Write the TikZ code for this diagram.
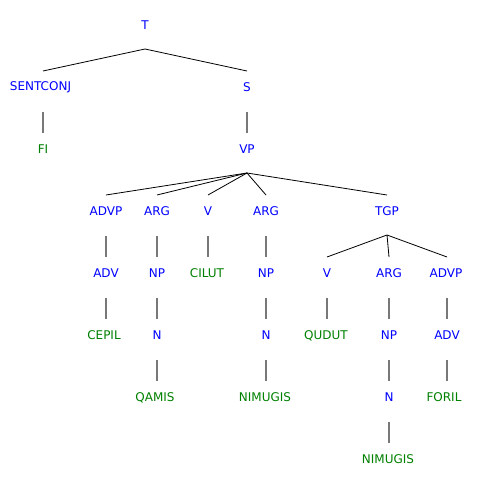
\documentclass[tikz,border=0pt]{standalone}
\usepackage{fontspec}
\setmainfont{DejaVu Sans}
\definecolor{ntblue}{RGB}{0,0,255}
\definecolor{tgreen}{RGB}{0,128,0}
\definecolor{vgray}{RGB}{120,120,120}
\begin{document}
\begin{tikzpicture}[x=1pt,y=-1pt,
  every node/.style={inner sep=0pt,font=\fontsize{12}{14}\selectfont},
  nt/.style={text=ntblue},
  tm/.style={text=tgreen},
  diag/.style={draw=black,line width=0.8pt},
  vert/.style={draw=vgray,line width=1.5pt}]
\useasboundingbox (0,0) rectangle (487,494);
% nodes
\node[nt] (T) at (145,25.5) {T};
\node[nt] (SC) at (40.5,87.5) {SENTCONJ};
\node[nt] (S) at (247,87.5) {S};
\node[tm] (FI) at (43,149.5) {FI};
\node[nt] (VP) at (247,149.5) {VP};
\node[nt] (ADVP1) at (106,211.5) {ADVP};
\node[nt] (ARG1) at (157,211.5) {ARG};
\node[nt] (V1) at (208,211.5) {V};
\node[nt] (ARG2) at (266,211.5) {ARG};
\node[nt] (TGP) at (387,211.5) {TGP};
\node[nt] (ADV1) at (106,273.5) {ADV};
\node[nt] (NP1) at (157,273.5) {NP};
\node[tm] (CILUT) at (207,273.5) {CILUT};
\node[nt] (NP2) at (266,273.5) {NP};
\node[nt] (V2) at (327,273.5) {V};
\node[nt] (ARG3) at (389,273.5) {ARG};
\node[nt] (ADVP2) at (446,273.5) {ADVP};
\node[tm] (CEPIL) at (104,335.5) {CEPIL};
\node[nt] (N1) at (157,335.5) {N};
\node[nt] (N2) at (266,335.5) {N};
\node[tm] (QUDUT) at (326,335.5) {QUDUT};
\node[nt] (NP3) at (389,335.5) {NP};
\node[nt] (ADV2) at (447,335.5) {ADV};
\node[tm] (QAMIS) at (155,397.5) {QAMIS};
\node[tm] (NIM1) at (265,397.5) {NIMUGIS};
\node[nt] (N3) at (389,397.5) {N};
\node[tm] (FORIL) at (444,397.5) {FORIL};
\node[tm] (NIM2) at (388,459.5) {NIMUGIS};
% anchor coordinates
\coordinate (Tb) at (145,49);
\coordinate (SCt) at (43,71);
\coordinate (St) at (247,71);
\coordinate (VPb) at (247,173);
\coordinate (ADVP1t) at (106,195);
\coordinate (ARG1t) at (157,195);
\coordinate (V1t) at (208,195);
\coordinate (ARG2t) at (266,195);
\coordinate (TGPt) at (387,195);
\coordinate (TGPb) at (387,235);
\coordinate (V2t) at (327,257);
\coordinate (ARG3t) at (389,257);
\coordinate (ADVP2t) at (447,257);
% diagonal edges
\draw[diag] (SCt) -- (Tb) -- (St);
\draw[diag] (VPb) -- (ADVP1t);
\draw[diag] (VPb) -- (ARG1t);
\draw[diag] (VPb) -- (V1t);
\draw[diag] (VPb) -- (ARG2t);
\draw[diag] (VPb) -- (TGPt);
\draw[diag] (TGPb) -- (V2t);
\draw[diag] (TGPb) -- (ARG3t);
\draw[diag] (TGPb) -- (ADVP2t);
% vertical edges
\draw[vert] (43,112) -- (43,133);
\draw[vert] (247,112) -- (247,133);
\draw[vert] (106,236) -- (106,257);
\draw[vert] (157,236) -- (157,257);
\draw[vert] (208,236) -- (208,257);
\draw[vert] (266,236) -- (266,257);
\draw[vert] (106,298) -- (106,319);
\draw[vert] (157,298) -- (157,319);
\draw[vert] (266,298) -- (266,319);
\draw[vert] (327,298) -- (327,319);
\draw[vert] (389,298) -- (389,319);
\draw[vert] (447,298) -- (447,319);
\draw[vert] (157,360) -- (157,381);
\draw[vert] (266,360) -- (266,381);
\draw[vert] (389,360) -- (389,381);
\draw[vert] (447,360) -- (447,381);
\draw[vert] (389,422) -- (389,443);
\end{tikzpicture}
\end{document}
